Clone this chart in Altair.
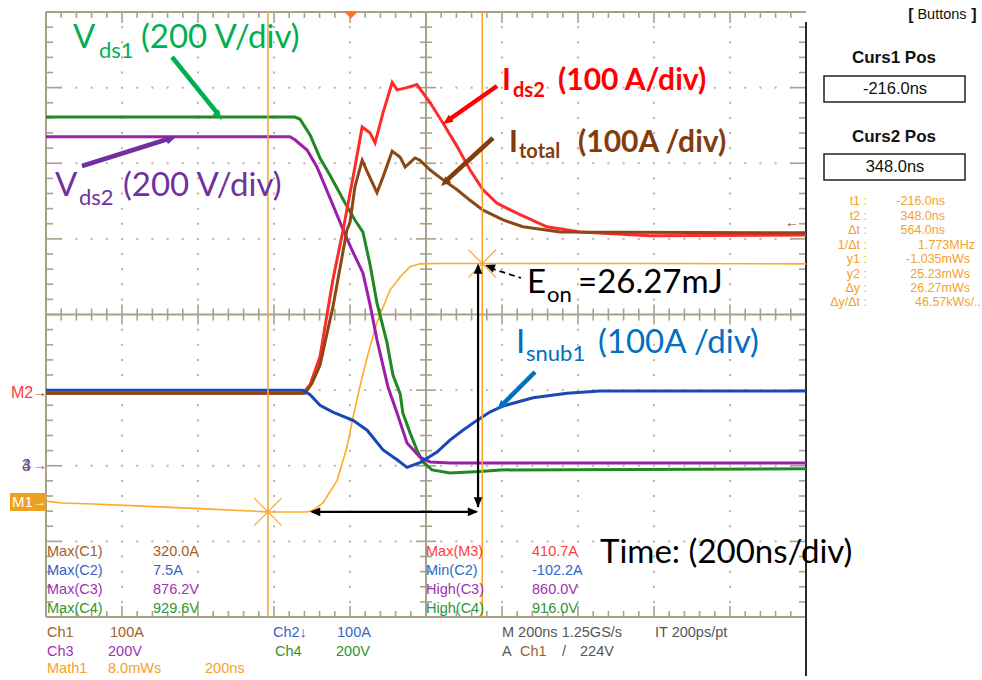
import altair as alt
import numpy as np
import pandas as pd

# ---------------- screen geometry: 10 x 8 divisions ----------------
T_MIN, T_MAX = -800.0, 1200.0        # ns, 200 ns/div, trigger 4 div from the left edge
D_MIN, D_MAX = -4.0, 4.0             # vertical divisions
PLOT_W, PLOT_H = 760, 605
PAD_L, PAD_T = 46, 12
CANVAS_W, CANVAS_H = 982, 680
NS_PX = (T_MAX - T_MIN) / PLOT_W
DIV_PX = (D_MAX - D_MIN) / PLOT_H


def t_at(px):
    """page column -> time (ns)"""
    return T_MIN + (px - PAD_L) * NS_PX


def d_at(py):
    """page row -> vertical divisions"""
    return D_MAX - (py - PAD_T) * DIV_PX


# ---------------- channel settings ----------------
ch_per_div = {"Vds1": 200.0, "Vds2": 200.0, "Ids2": 100.0, "Itotal": 100.0,
              "Isnub1": 100.0, "Eon": 8.0}
ch_ground = {"Vds1": -2.0, "Vds2": -2.0, "Ids2": -1.04, "Itotal": -1.04,
             "Isnub1": -1.0, "Eon": -2.48}

# ---------------- waveforms (time in ns) ----------------
t_vds1 = [-800, -145, -132, -105, -79, -53, -13, 13, 34, 53, 71, 97, 113, 132,
          139, 158, 176, 192, 216, 263, 342, 395, 1200]
v_vds1 = [922, 922, 917, 875, 814, 769, 695, 650, 618, 531, 430, 327, 240, 190,
          140, 87, 42, 10, -11, -19, -15, -11, -8]

t_vds2 = [-800, -158, -145, -113, -87, -58, -18, 5, 34, 53, 71, 100, 124, 150,
          184, 211, 263, 1200]
v_vds2 = [870, 870, 862, 835, 790, 721, 624, 571, 510, 425, 333, 208, 139, 60,
          23, 10, 7, 7]

t_ids2 = [-800, -124, -105, -79, -45, -18, 13, 32, 53, 66, 87, 111, 124, 150,
          176, 192, 211, 245, 282, 316, 350, 387, 439, 518, 605, 789, 1200]
i_ids2 = [0, 0, 11, 48, 150, 216, 299, 352, 344, 331, 371, 410.7, 401, 404,
          408, 397, 384, 357, 326, 295, 269, 251, 238, 220, 213, 208, 209]

t_itot = [-800, -118, -100, -79, -45, -8, 0, 13, 32, 47, 71, 87, 111, 132, 145,
          171, 184, 211, 245, 282, 316, 350, 403, 455, 553, 1200]
i_itot = [0, 0, 13, 37, 114, 216, 226, 273, 308, 291, 265, 286, 320, 312, 299,
          311, 308, 295, 282, 269, 255, 242, 229, 220, 213, 212]

t_snub = [-800, -124, -105, -79, -45, 8, 45, 87, 124, 150, 184, 229, 263, 297,
          334, 368, 403, 482, 571, 658, 1200]
i_snub = [0, 0, -6, -20, -29, -40, -53, -79, -92, -102.2, -96, -82, -66, -53,
          -40, -29, -21, -10, -4, -1, -1]

t_eon = [-800, -758, -676, -561, -395, -216, -113, -97, -71, -34, -8, 8, 26, 47,
         71, 105, 132, 158, 184, 237, 348, 782, 1200]
e_eon = [0.1, -0.1, -0.2, -0.4, -0.7, -1.035, -1.05, -0.85, -0.1, 2.3, 5.8, 9.0,
         12.2, 15.6, 19.0, 22.4, 23.8, 24.9, 25.2, 25.23, 25.23, 25.23, 25.2]

# cursor readouts
curs1_t, curs2_t = -216.0, 348.0
curs1_e, curs2_e = -1.035, 25.23

# ---------------- colours ----------------
KHAKI = "#a8a18a"
DOT = "#b9b3a3"
ORANGE = "#ffaa22"
TXT_ORANGE = "#f3a12c"
trace_colors = {"Vds1": "#1f8a22", "Vds2": "#9b1faa", "Ids2": "#ff2b2b",
                "Itotal": "#8c4814", "Isnub1": "#1a48b8"}

xs = alt.Scale(domain=[T_MIN, T_MAX], nice=False, zero=False)
ys = alt.Scale(domain=[D_MIN, D_MAX], nice=False, zero=False)


def to_div(name, vals):
    return np.asarray(vals, dtype=float) / ch_per_div[name] + ch_ground[name]


def X(f="x"):
    return alt.X(f"{f}:Q", scale=xs, axis=None)


def Y(f="y"):
    return alt.Y(f"{f}:Q", scale=ys, axis=None)


def page(rows, cols):
    df = pd.DataFrame(rows, columns=cols)
    df["x"] = t_at(df["px"])
    df["y"] = d_at(df["py"])
    return df


# ---------------- graticule ----------------
minor_t = np.arange(T_MIN, T_MAX + 1, 40.0)
minor_d = np.round(np.arange(D_MIN, D_MAX + 1e-6, 0.2), 3)
T_CENTER = 200.0

tick_rows = []
for t in minor_t[1:-1]:
    major = abs(((t - T_MIN) / 200.0) - round((t - T_MIN) / 200.0)) < 1e-6
    c = (10 if major else 6) * DIV_PX
    tick_rows.append((t, t, -c, c))
    b = (11 if major else 6) * DIV_PX
    tick_rows.append((t, t, D_MAX, D_MAX - b))
    tick_rows.append((t, t, D_MIN, D_MIN + b))
for d in minor_d[1:-1]:
    major = abs(d - round(d)) < 1e-6
    c = (10 if major else 6) * NS_PX
    tick_rows.append((T_CENTER - c, T_CENTER + c, d, d))
    b = (15 if major else 7) * NS_PX
    tick_rows.append((T_MIN, T_MIN + b, d, d))
    tick_rows.append((T_MAX, T_MAX - b, d, d))
ticks = pd.DataFrame(tick_rows, columns=["x", "x2", "y", "y2"])

frame = pd.DataFrame([
    (T_MIN, T_MAX, D_MAX, D_MAX), (T_MIN, T_MAX, D_MIN, D_MIN),
    (T_MIN, T_MIN, D_MIN, D_MAX), (T_MIN, T_MAX, 0.0, 0.0),
    (T_CENTER, T_CENTER, D_MIN, D_MAX)], columns=["x", "x2", "y", "y2"])

dot_rows = []
for t in np.arange(T_MIN + 200, T_MAX, 200.0):
    if t == T_CENTER:
        continue
    for d in minor_d[1:-1]:
        if abs(d) > 1e-6:
            dot_rows.append((t, d))
for d in [-3.0, -2.0, -1.0, 1.0, 2.0, 3.0]:
    for t in minor_t[1:-1]:
        if t != T_CENTER:
            dot_rows.append((t, d))
dots = pd.DataFrame(dot_rows, columns=["x", "y"]).drop_duplicates()

rule_enc = dict(x=X(), x2="x2:Q", y=Y(), y2="y2:Q")
grat_ticks = alt.Chart(ticks).mark_rule(color=KHAKI, strokeWidth=1.6).encode(**rule_enc)
grat_frame = alt.Chart(frame).mark_rule(color=KHAKI, strokeWidth=2).encode(**rule_enc)
grat_dots = alt.Chart(dots).mark_square(size=4, color=DOT, opacity=1).encode(x=X(), y=Y())

right_edge = pd.DataFrame({"x": [T_MAX], "x2": [T_MAX], "y": [d_at(22)], "y2": [d_at(676)]})
edge = alt.Chart(right_edge).mark_rule(color="#2b2b2b", strokeWidth=2).encode(**rule_enc)

# ---------------- traces ----------------
parts = []
for name, t, v in [("Vds1", t_vds1, v_vds1), ("Vds2", t_vds2, v_vds2),
                   ("Ids2", t_ids2, i_ids2), ("Itotal", t_itot, i_itot),
                   ("Isnub1", t_snub, i_snub)]:
    parts.append(pd.DataFrame({"x": t, "y": to_div(name, v), "series": name,
                               "k": range(len(t))}))
traces = pd.concat(parts, ignore_index=True)
order = ["Vds1", "Vds2", "Ids2", "Itotal", "Isnub1"]
trace_layer = alt.Chart(traces).mark_line(strokeWidth=3, interpolate="linear").encode(
    x=X(), y=Y(), order="k:Q",
    color=alt.Color("series:N", scale=alt.Scale(domain=order,
                    range=[trace_colors[s] for s in order]), legend=None),
    detail="series:N")

eon_df = pd.DataFrame({"x": t_eon, "y": to_div("Eon", e_eon), "k": range(len(t_eon))})
eon_layer = alt.Chart(eon_df).mark_line(color=ORANGE, strokeWidth=1.6).encode(
    x=X(), y=Y(), order="k:Q")

# ---------------- cursors ----------------
curs = pd.DataFrame({"x": [curs1_t, curs2_t], "x2": [curs1_t, curs2_t],
                     "y": [D_MIN, D_MIN], "y2": [D_MAX, D_MAX]})
cursor_layer = alt.Chart(curs).mark_rule(color="#f7a630", strokeWidth=1.6).encode(**rule_enc)

stars = pd.DataFrame({"x": [curs1_t, curs2_t],
                      "y": to_div("Eon", [curs1_e, curs2_e])})
star_layer = alt.Chart(stars).mark_point(
    shape="M-1,-1L1,1M-1,1L1,-1", size=760, filled=False, color="#f7a630",
    strokeWidth=1.2, opacity=1).encode(x=X(), y=Y())

# ---------------- E_on measurement arrows (data units) ----------------
arr_t = 337.0
meas = pd.DataFrame({
    "x": [t_at(312), arr_t], "x2": [arr_t - 4, arr_t],
    "y": to_div("Eon", [curs1_e, curs1_e + 0.5]),
    "y2": to_div("Eon", [curs1_e, curs2_e - 0.3])})
meas_layer = alt.Chart(meas).mark_rule(color="black", strokeWidth=2.2).encode(**rule_enc)

HEAD = "M0,0L-0.42,1L0.42,1Z"


def heads(rows):
    df = pd.DataFrame(rows, columns=["px", "py", "dx", "dy", "color", "size"])
    df["x"] = t_at(df["px"])
    df["y"] = d_at(df["py"])
    df["ang"] = (np.degrees(np.arctan2(df["dx"], -df["dy"]))) % 360
    return df


meas_heads = pd.DataFrame({
    "x": [t_at(310), arr_t, arr_t, arr_t],
    "y": list(to_div("Eon", [curs1_e, curs1_e, curs1_e + 0.45, curs2_e])),
    "ang": [270.0, 90.0, 180.0, 0.0]})
meas_head_layer = alt.Chart(meas_heads).mark_point(
    shape=HEAD, size=420, filled=True, color="black", opacity=1).encode(
    x=X(), y=Y(), angle=alt.Angle("ang:Q", scale=None))

# dashed leader from the E_on label to the second cursor crossing
leader = page([(490, 268, 521, 278)], ["px", "py", "px2", "py2"])
leader["x2"] = t_at(leader["px2"])
leader["y2"] = d_at(leader["py2"])
leader_layer = alt.Chart(leader).mark_rule(color="black", strokeWidth=1.8,
                                           strokeDash=[6, 4]).encode(**rule_enc)

# ---------------- label pointer arrows ----------------
ptr = page([
    (172, 57, 218, 114, "#00b050"),
    (82, 166, 168, 139, "#7030a0"),
    (497, 86, 450, 119, "#ff0000"),
    (493, 138, 447, 180, "#843c0c"),
    (535, 372, 503, 404, "#0070c0")], ["px", "py", "px2", "py2", "color"])
ptr["x2"] = t_at(ptr["px2"])
ptr["y2"] = d_at(ptr["py2"])
ptr_layer = alt.Chart(ptr).mark_rule(strokeWidth=4.5).encode(
    **rule_enc, color=alt.Color("color:N", scale=None))

ptr_heads = heads([
    (222, 120, 46, 57, "#00b050", 0), (176, 137, 86, -29, "#7030a0", 0),
    (443, 124, -47, 33, "#ff0000", 0), (441, 186, -46, 42, "#843c0c", 0),
    (497, 410, -32, 32, "#0070c0", 0),
    (485, 265, -35, -13, "black", 0)])
ptr_head_layer = alt.Chart(ptr_heads).mark_point(
    shape=HEAD, size=400, filled=True, opacity=1).encode(
    x=X(), y=Y(), angle=alt.Angle("ang:Q", scale=None),
    color=alt.Color("color:N", scale=None))

# trigger position marker
trig = page([(351, 15)], ["px", "py"])
trig_layer = alt.Chart(trig).mark_point(
    shape="M-1,-0.5L1,-0.5L0,0.5Z", size=196, filled=True, color="#ff7020",
    opacity=1).encode(x=X(), y=Y())


# ---------------- text ----------------
def text_layer(rows, font, weight="normal", align="left", baseline="alphabetic"):
    df = page(rows, ["txt", "px", "py", "size", "color"])
    return alt.Chart(df).mark_text(font=font, fontWeight=weight, align=align,
                                   baseline=baseline).encode(
        x=X(), y=Y(), text="txt:N",
        size=alt.Size("size:Q", scale=None),
        color=alt.Color("color:N", scale=None))


LATO = "Lato"
labels_regular = text_layer([
    ("V", 73, 48, 33, "#00b050"), ("ds1", 99, 58, 22, "#00b050"),
    ("(200 V/div)", 141, 48, 33, "#00b050"),
    ("V", 55, 196, 33, "#7030a0"), ("ds2", 79, 205, 22, "#7030a0"),
    ("(200 V/div)", 123, 196, 33, "#7030a0"),
    ("I", 516, 353, 33, "#0070c0"), ("snub1", 526, 361, 22, "#0070c0"),
    ("(100A /div)", 598, 353, 33, "#0070c0"),
    ("E", 527, 293, 33, "black"), ("on", 547, 302, 22, "black"),
    ("=26.27mJ", 578, 293, 33, "black"),
    ("Time: (200ns/div)", 600, 563, 33, "black")], LATO)

labels_bold = text_layer([
    ("I", 502, 90, 30, "#ff0000"), ("ds2", 513, 97, 20, "#ff0000"),
    ("(100 A/div)", 558, 90, 30, "#ff0000"),
    ("I", 509, 152, 30, "#843c0c"), ("total", 519, 158, 20, "#843c0c"),
    ("(100A /div)", 578, 152, 30, "#843c0c")], LATO, weight="bold")

UI = "Liberation Sans"
FS = 14.5
C_BR, C_BL, C_PU, C_GR, C_RD, C_GY = "#a0602a", "#3565c5", "#a033b3", "#2f9430", "#ff3b3b", "#555555"
ui_text = text_layer([
    ("Max(C1)", 47, 552, FS, C_BR), ("320.0A", 153, 552, FS, C_BR),
    ("Max(C2)", 47, 571, FS, C_BL), ("7.5A", 153, 571, FS, C_BL),
    ("Max(C3)", 47, 590, FS, C_PU), ("876.2V", 153, 590, FS, C_PU),
    ("Max(C4)", 47, 609, FS, C_GR), ("929.6V", 153, 609, FS, C_GR),
    ("Max(M3)", 426, 552, FS, C_RD), ("410.7A", 532, 552, FS, C_RD),
    ("Min(C2)", 426, 571, FS, C_BL), ("-102.2A", 532, 571, FS, C_BL),
    ("High(C3)", 426, 590, FS, C_PU), ("860.0V", 532, 590, FS, C_PU),
    ("High(C4)", 426, 609, FS, C_GR), ("916.0V", 532, 609, FS, C_GR),
    ("Ch1", 47, 633, FS, C_BR), ("100A", 110, 633, FS, C_BR),
    ("Ch2↓", 273, 633, FS, C_BL), ("100A", 337, 633, FS, C_BL),
    ("M 200ns 1.25GS/s", 502, 633, FS, C_GY), ("IT 200ps/pt", 655, 633, FS, C_GY),
    ("Ch3", 47, 652, FS, C_PU), ("200V", 108, 652, FS, C_PU),
    ("Ch4", 275, 652, FS, C_GR), ("200V", 336, 652, FS, C_GR),
    ("A", 502, 652, FS, C_GY), ("Ch1", 520, 652, FS, C_BR),
    ("/", 562, 652, FS, C_GY), ("224V", 580, 652, FS, C_GY),
    ("Math1", 47, 669, FS, TXT_ORANGE), ("8.0mWs", 108, 669, FS, TXT_ORANGE),
    ("200ns", 205, 669, FS, TXT_ORANGE),
    ("M2", 11, 393, 16, C_RD), ("→", 33, 393, 14, "#8c4814"),
    ("4", 22, 466, 16, C_GR), ("3", 22, 466, 16, C_PU), ("→", 33, 466, 14, C_PU),
    ("←", 785, 223, 14, "#8c4814"),
], UI, baseline="middle")

# readout panel
RO_FS = 12.5
ro_y = [201, 216, 230, 245, 259, 274, 288, 302]
ro_lab = ["t1 :", "t2 :", "Δt :", "1/Δt :", "y1 :", "y2 :", "Δy :", "Δy/Δt :"]
ro_val = ["-216.0ns", "348.0ns", "564.0ns", "1.773MHz", "-1.035mWs",
          "25.23mWs", "26.27mWs", "46.57kWs/.."]
ro_right = [945, 945, 945, 975, 970, 970, 970, 981]
ro_labels = text_layer([(l, 867, y, RO_FS, TXT_ORANGE) for l, y in zip(ro_lab, ro_y)],
                       UI, align="right", baseline="middle")
ro_values = text_layer([(v, r, y, RO_FS, TXT_ORANGE) for v, r, y in zip(ro_val, ro_right, ro_y)],
                       UI, align="right", baseline="middle")

boxes = pd.DataFrame({"x": [t_at(824), t_at(824)], "x2": [t_at(965), t_at(965)],
                      "y": [d_at(76), d_at(154)], "y2": [d_at(102), d_at(180)]})
box_layer = alt.Chart(boxes).mark_rect(fill="white", stroke="#222222",
                                       strokeWidth=1.5).encode(**rule_enc)
panel_bold = text_layer([
    ("Curs1 Pos", 894, 58, 17, "#111111"), ("Curs2 Pos", 894, 137, 17, "#111111")],
    "Liberation Sans", weight="bold", align="center", baseline="middle")
panel_text = text_layer([
    ("-216.0ns", 895, 89, 16.5, "#111111"), ("348.0ns", 895, 167, 16.5, "#111111"),
    ("Buttons", 942, 15, 14.5, "#111111")], UI, align="center", baseline="middle")
brackets = text_layer([("[", 911, 15, 16, "#111111"), ("]", 974, 15, 16, "#111111")],
                      "Liberation Sans", weight="bold", align="center", baseline="middle")

# M1 reference marker
m1_box = pd.DataFrame({"x": [t_at(10)], "x2": [t_at(46)], "y": [d_at(493)], "y2": [d_at(511)]})
m1_layer = alt.Chart(m1_box).mark_rect(fill="#f0a020").encode(**rule_enc)
m1_text = text_layer([("M1", 12, 502, 15, "white"), ("→", 34, 502, 12, "white")],
                     UI, baseline="middle")

chart = alt.layer(
    grat_dots, grat_ticks, grat_frame, edge,
    eon_layer, trace_layer, cursor_layer, star_layer,
    meas_layer, meas_head_layer, leader_layer,
    ptr_layer, ptr_head_layer, trig_layer,
    labels_regular, labels_bold, ui_text, ro_labels, ro_values,
    box_layer, panel_bold, panel_text, brackets, m1_layer, m1_text,
).properties(
    width=PLOT_W, height=PLOT_H,
    autosize=alt.AutoSizeParams(type="none"),
    padding={"left": PAD_L, "top": PAD_T,
             "right": CANVAS_W - PAD_L - PLOT_W, "bottom": CANVAS_H - PAD_T - PLOT_H},
    background="white",
).configure_view(stroke=None)

chart.save("out.html", embed_options={"renderer": "svg", "actions": False})
